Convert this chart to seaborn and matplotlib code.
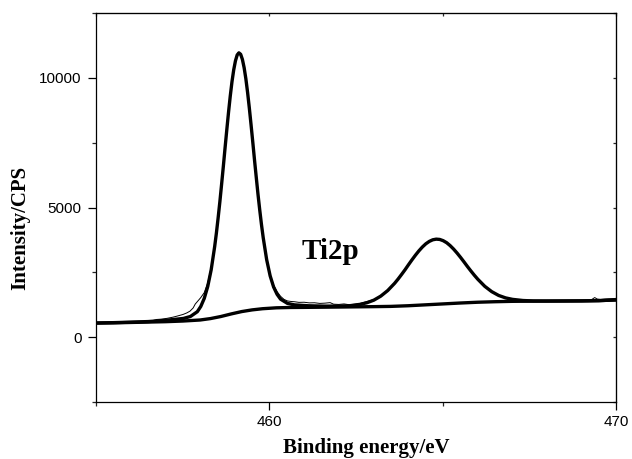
import numpy as np
import pandas as pd
import matplotlib
matplotlib.use('Agg')
import matplotlib.pyplot as plt
from matplotlib.ticker import MultipleLocator
import seaborn as sns

# raw Ti2p spectrum (thin line)
raw_x = [455.00, 455.15, 455.30, 455.45, 455.60, 455.80, 456.00, 456.20, 456.40, 456.60,
         456.75, 456.90, 457.05, 457.22, 457.35, 457.51, 457.62, 457.71, 457.80, 457.86,
         457.95, 458.02, 458.12, 458.22, 458.32, 458.42, 458.52, 458.62, 458.72, 458.82,
         458.92, 459.02, 459.07, 459.10, 459.12, 459.17, 459.27, 459.37, 459.47, 459.57,
         459.67, 459.77, 459.82, 459.92, 460.02, 460.12, 460.22, 460.32, 460.42, 460.52,
         460.62, 460.72, 460.85, 461.00, 461.15, 461.30, 461.45, 461.60, 461.75, 461.85,
         462.00, 462.15, 462.30, 462.45, 462.61, 462.75, 462.90, 463.05, 463.21, 463.41,
         463.61, 463.81, 464.01, 464.21, 464.41, 464.61, 464.81, 465.01, 465.21, 465.41,
         465.61, 465.81, 466.01, 466.21, 466.41, 466.61, 466.81, 467.01, 467.31, 467.61,
         467.80, 468.00, 468.20, 468.40, 468.60, 468.75, 468.90, 469.05, 469.20, 469.30,
         469.38, 469.45, 469.55, 469.70, 469.85, 470.00]
raw_y = [560, 535, 552, 546, 568, 562, 580, 585, 600, 630,
         686, 700, 730, 775, 820, 880, 940, 1008, 1130, 1280,
         1420, 1530, 1720, 2100, 2680, 3530, 4630, 5920, 7320, 8690,
         9870, 10680, 10900, 10990, 10940, 10930, 10410, 9450, 8200, 6840,
         5530, 4370, 3870, 3030, 2420, 2010, 1760, 1580, 1460, 1400,
         1380, 1370, 1345, 1350, 1325, 1330, 1305, 1315, 1335, 1275,
         1265, 1285, 1255, 1270, 1300, 1355, 1410, 1470, 1600, 1810,
         2085, 2425, 2800, 3170, 3485, 3700, 3790, 3730, 3540, 3255,
         2912, 2560, 2240, 1970, 1765, 1618, 1522, 1468, 1420, 1405,
         1398, 1402, 1396, 1405, 1392, 1410, 1388, 1400, 1395, 1460,
         1530, 1475, 1455, 1470, 1480, 1500]

# fitted envelope (thick line)
fit_x = [455.00, 455.50, 456.00, 456.50, 457.00, 457.52, 457.72, 457.92, 458.02, 458.12,
         458.22, 458.32, 458.42, 458.47, 458.52, 458.57, 458.62, 458.67, 458.72, 458.77,
         458.82, 458.87, 458.92, 458.97, 459.02, 459.07, 459.12, 459.17, 459.22, 459.27,
         459.32, 459.37, 459.42, 459.47, 459.52, 459.57, 459.62, 459.67, 459.72, 459.77,
         459.82, 459.92, 460.02, 460.12, 460.22, 460.32, 460.52, 460.72, 461.12, 461.60,
         462.01, 462.31, 462.61, 462.81, 463.01, 463.21, 463.41, 463.61, 463.71, 463.81,
         463.91, 464.01, 464.11, 464.21, 464.31, 464.41, 464.51, 464.61, 464.71, 464.81,
         464.91, 465.01, 465.11, 465.21, 465.31, 465.41, 465.51, 465.61, 465.71, 465.81,
         465.91, 466.01, 466.21, 466.41, 466.61, 466.81, 467.01, 467.31, 467.61, 468.00,
         468.50, 469.00, 469.50, 470.00]
fit_y = [550, 563, 582, 605, 652, 726, 800, 985, 1188, 1498,
         1955, 2604, 3492, 4015, 4599, 5222, 5895, 6583, 7300, 7997,
         8673, 9300, 9857, 10313, 10660, 10887, 10966, 10911, 10714, 10395,
         9966, 9437, 8838, 8189, 7518, 6826, 6163, 5510, 4908, 4346,
         3842, 2990, 2369, 1938, 1656, 1469, 1305, 1249, 1214, 1200,
         1203, 1215, 1268, 1330, 1430, 1585, 1800, 2080, 2244, 2420,
         2602, 2796, 2984, 3164, 3331, 3479, 3604, 3696, 3758, 3783,
         3772, 3724, 3646, 3535, 3401, 3248, 3082, 2907, 2727, 2555,
         2390, 2235, 1964, 1759, 1612, 1518, 1461, 1417, 1400, 1396,
         1398, 1402, 1412, 1440]

# Shirley background (thick line)
bg_x = [455.0, 455.5, 456.0, 456.5, 457.0, 457.5, 458.0, 458.3, 458.6, 458.9,
        459.2, 459.5, 459.8, 460.2, 460.6, 461.0, 462.0, 463.0, 463.5, 464.0,
        464.5, 465.0, 465.5, 466.0, 466.5, 467.0, 468.0, 469.0, 469.5, 470.0]
bg_y = [545, 555, 570, 585, 600, 625, 665, 720, 800, 900,
        990, 1055, 1100, 1135, 1148, 1152, 1165, 1180, 1190, 1215,
        1250, 1285, 1320, 1350, 1370, 1385, 1395, 1402, 1412, 1440]

sns.set_style('ticks')
plt.rcParams['font.family'] = ['Liberation Sans', 'DejaVu Sans']
plt.rcParams['text.color'] = 'black'
plt.rcParams['axes.labelcolor'] = 'black'

raw = pd.DataFrame({'x': raw_x, 'y': raw_y})
fit = pd.DataFrame({'x': fit_x, 'y': fit_y})
bg = pd.DataFrame({'x': bg_x, 'y': bg_y})

fig = plt.figure(figsize=(6.32, 4.59), dpi=100)
ax = fig.add_axes([0.152, 0.124, 0.823, 0.8475])

sns.lineplot(data=raw, x='x', y='y', ax=ax, color='black', linewidth=0.7, estimator=None)
sns.lineplot(data=bg, x='x', y='y', ax=ax, color='black', linewidth=2.4, estimator=None)
sns.lineplot(data=fit, x='x', y='y', ax=ax, color='black', linewidth=2.4, estimator=None)

ax.set_xlim(455, 470)
ax.set_ylim(-2500, 12500)
ax.xaxis.set_major_locator(MultipleLocator(10))
ax.xaxis.set_minor_locator(MultipleLocator(5))
ax.yaxis.set_major_locator(MultipleLocator(5000))
ax.yaxis.set_minor_locator(MultipleLocator(2500))

for side in ['top', 'right', 'left', 'bottom']:
    ax.spines[side].set_visible(True)
    ax.spines[side].set_color('black')
    ax.spines[side].set_linewidth(0.9)

ax.tick_params(axis='both', which='major', direction='out', length=5.5, width=0.9,
               labelsize=11, colors='black', top=False, right=False)
ax.tick_params(axis='y', which='major', pad=5)
ax.tick_params(axis='both', which='minor', direction='out', length=3, width=0.9,
               top=False, right=False)

# short inward ticks on top and right
ax_t = ax.secondary_xaxis('top')
ax_t.set_xticks([455, 460, 465, 470])
ax_t.tick_params(direction='in', length=2.5, width=0.9, labeltop=False)
ax_r = ax.secondary_yaxis('right')
ax_r.set_yticks([-2500, 0, 2500, 5000, 7500, 10000, 12500])
ax_r.tick_params(direction='in', length=2.5, width=0.9, labelright=False)

serif = ['Liberation Serif', 'DejaVu Serif']
ax.set_xlabel('Binding energy/eV', family=serif, fontweight='bold', fontsize=15)
ax.set_ylabel('Intensity/CPS', family=serif, fontweight='bold', fontsize=15)
ax.xaxis.set_label_coords(0.519, -0.093)
ax.yaxis.set_label_coords(-0.127, 0.447)

ax.text(460.93, 3012, 'Ti2p', family=serif, fontweight='bold', fontsize=21,
        ha='left', va='baseline')

fig.savefig('out.png', dpi=100)
